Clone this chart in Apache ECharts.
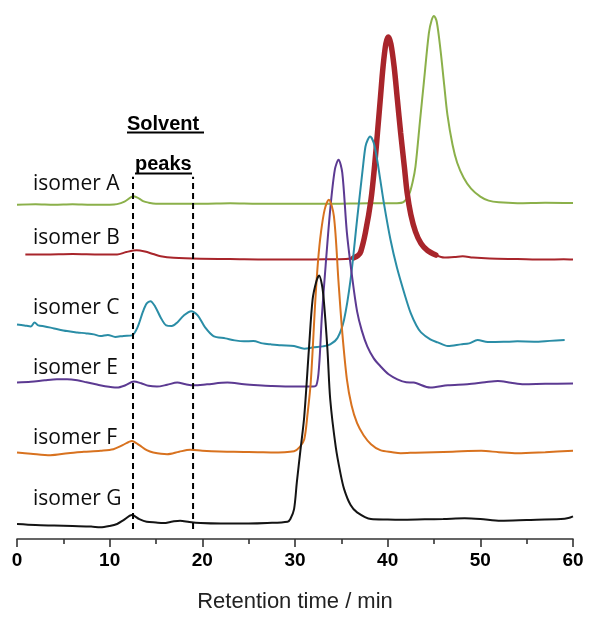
<!DOCTYPE html>
<html>
<head>
<meta charset="utf-8">
<script src="https://cdn.jsdelivr.net/npm/echarts@6/dist/echarts.min.js"></script>
<style>
html,body{margin:0;padding:0;background:#fff;}
#chart{width:589px;height:618px;}
</style>
</head>
<body>
<div id="chart"></div>
<script>
// Retention time (min) vs. detector signal (stacked, arbitrary units)
const xTicks = [0, 10, 20, 30, 40, 50, 60];
const seriesNames = ['isomer A', 'isomer B', 'isomer C', 'isomer E', 'isomer F', 'isomer G'];
const seriesColors = ['#8bb04a', '#a8252b', '#2a8da6', '#5c3a92', '#d8721f', '#141414'];
const solventPeakTimes = [12.52, 19.0];
const solventLineSpan = [10, 363];

const isomerA = [[0,335],[2,335.5],[4,335],[6,335.5],[8,335],[10,335],[10.8,335.5],[11.6,338],[12.6,343.5],[13.2,341],[13.6,338.5],[14.2,337],[15,336],[17,336],[20,336],[23,336.5],[26,336],[30,336],[34,336],[38,336.5],[41,336.5],[41.7,337.5],[42.3,345],[42.7,358],[43.0,373],[43.5,420],[43.9,457],[44.45,507],[44.75,520],[45.0,524],[45.3,518],[45.7,490],[46.1,455],[46.45,425],[47,395],[47.5,377],[48.2,362],[49,351],[50,343],[50.9,339],[52,337.3],[54,336.5],[57,337],[60,336.7]];

const isomerB = [[0.9,285],[3,285],[6,285.5],[9,285],[10.8,285],[11.8,287.5],[12.9,289.3],[13.8,288],[14.7,285.5],[15.5,283.3],[16.9,281.7],[19.8,280.7],[23,280.5],[27,280],[31,280],[34,280.3],[35.5,280.5],[36.3,281.5],[36.8,284],[37.1,288],[37.6,307],[38.2,340],[38.6,375],[38.9,407],[39.2,440],[39.5,473],[39.8,496],[40.07,503],[40.35,496],[40.7,473],[41.05,440],[41.4,407],[41.8,373],[42.1,347],[42.5,325],[43.0,308],[43.6,296],[44.3,289],[45.2,284.5],[46.1,282],[47.2,282.5],[48.1,283.3],[49.2,282],[51,281],[54,280.5],[57,280],[59,280.3],[60,280]];

const isomerC = [[0,215],[0.8,214],[1.5,213],[1.9,217],[2.3,214],[3,213],[4,211],[5.4,208.3],[6.5,207],[7.5,206],[8.3,205],[9,203.3],[9.8,204.5],[10.6,202.5],[11.5,203.5],[12.4,204],[13,212],[13.6,228],[14.0,236],[14.4,238.3],[14.9,233],[15.5,222],[16.1,214],[16.7,213.3],[17.3,217],[18.0,224],[18.8,228.3],[19.5,224],[20.3,212],[21.2,203.3],[22.5,201],[23.5,199],[24.5,198],[25.5,198.3],[26.5,196],[27.4,195],[28.5,194],[29.9,193.3],[31,190.7],[32,192],[33,193],[33.8,195],[34.6,201.7],[35.3,220],[36.0,260],[36.7,320],[37.3,370],[37.6,393],[37.85,400],[38.1,403.3],[38.5,396.7],[38.9,378],[39.2,360],[39.6,336],[40.3,300],[41.0,272],[41.9,243],[42.5,226],[43.1,214],[43.6,207],[44.6,200],[45.4,197],[46.5,193.3],[47.9,195],[48.8,196],[49.7,199.3],[50.8,197.3],[52.5,197.5],[54,198],[55.8,197.7],[57.5,198.5],[59.1,199.3]];

const isomerE = [[0,156.7],[1.5,157.5],[3,159],[4.3,160],[5.4,160],[6.5,159],[7.5,157],[8.5,155],[9.5,153],[10.8,151.7],[11.7,154],[12.6,157.7],[13.4,156],[14.2,153.5],[15.1,152.7],[16.2,154.5],[17.3,156.7],[18.2,155],[19.1,154],[20.5,155],[22.7,156.7],[24.5,155],[26,154],[27.4,153.3],[29.9,152.7],[31.7,152.7],[32.3,154],[32.6,173.3],[32.9,223.3],[33.3,273.3],[33.8,330],[34.3,370],[34.7,380],[35.1,367],[35.6,307],[36.2,260],[36.7,228],[37.2,209],[37.8,193],[38.5,181],[39.2,173.3],[40.1,165],[41.05,160],[42,157],[42.8,156.7],[44.6,151.7],[46.5,154],[48.6,155],[50.5,157],[51.9,158.3],[53.3,156.5],[54.7,155],[57,155.5],[60,155.7]];

const isomerF = [[0,86.7],[1.5,85.5],[3.6,84],[5.5,86],[7.2,87.3],[9,88.5],[10.4,90],[11.4,94],[12.4,98.3],[13.2,94],[14.0,89],[14.7,86.7],[16.2,85],[17.5,87.5],[18.7,89.3],[20,88.5],[23.4,87.3],[26,87],[27.4,86.7],[29.9,88],[30.5,92],[31.0,100],[31.35,125],[31.7,157],[32.2,240],[32.5,280],[32.8,307],[33.2,330],[33.65,340],[34.2,323.3],[34.7,257],[35.1,207],[35.6,160],[36.1,134],[36.7,116],[37.4,104],[38.2,95],[39.2,89],[40.5,87],[41.4,86],[43,86.5],[45,87],[47,87.5],[50.1,88.3],[52,87],[54,86],[57,87],[60,88.3]];

const isomerG = [[0,15],[2,14],[4,13.5],[6,13],[8,12.5],[9,11.7],[10,13],[10.8,15],[11.5,19],[12.4,24],[13.2,20],[14,17.3],[15,16.5],[15.8,16],[16.8,17.5],[17.6,18.3],[18.6,17],[19.8,16],[22,15.5],[25,15.5],[27,16],[29.2,17.3],[29.5,20],[29.9,30],[30.2,57],[30.6,90],[31.0,123],[31.5,190],[31.9,240],[32.3,258],[32.6,264],[32.9,255],[33.1,240],[33.5,190],[33.8,140],[34.4,92],[34.9,66],[35.3,50],[36.0,34],[36.7,26.7],[38.2,20],[40,19.5],[41.4,19.3],[44,19.7],[46,20],[48.3,20.7],[50,20],[52.2,18.3],[55,19],[58.7,20],[59.5,21],[60,22.7]];

const traces = [isomerA, isomerB, isomerC, isomerE, isomerF, isomerG];
const thickRange = [36.3, 45.2];

const chart = echarts.init(document.getElementById('chart'), null, {renderer: 'canvas'});

const series = traces.map((d, i) => ({
  name: seriesNames[i],
  type: 'line',
  data: d,
  showSymbol: false,
  smooth: 0.3,
  lineStyle: {color: seriesColors[i], width: 2},
  z: 2 + i
}));

series.push({
  name: 'isomer B peak',
  type: 'line',
  data: isomerB.filter(p => p[0] >= thickRange[0] && p[0] <= thickRange[1]),
  showSymbol: false,
  smooth: 0.3,
  lineStyle: {color: seriesColors[1], width: 5.5, cap: 'round'},
  z: 3
});

solventPeakTimes.forEach((t, k) => {
  series.push({
    name: 'solvent' + k,
    type: 'line',
    data: [[t, solventLineSpan[0]], [t, solventLineSpan[1]]],
    showSymbol: false,
    lineStyle: {color: '#000', width: 2, type: [6, 4]},
    z: 10
  });
});

const labelY = [184, 238, 308, 368, 438, 499];
const graphics = seriesNames.map((n, i) => ({
  type: 'text',
  x: 33,
  y: labelY[i],
  style: {text: n, font: '21px "Open Sans"', fill: '#0d0d0d', verticalAlign: 'middle', align: 'left'}
}));
graphics.push(
  {type: 'text', x: 127, y: 124, style: {text: 'Solvent', font: 'bold 20px "Liberation Sans", Arial', fill: '#000', verticalAlign: 'middle', align: 'left'}},
  {type: 'line', shape: {x1: 127, y1: 132.5, x2: 204, y2: 132.5}, style: {stroke: '#000', lineWidth: 2}},
  {type: 'text', x: 135, y: 164, style: {text: 'peaks', font: 'bold 20px "Liberation Sans", Arial', fill: '#000', verticalAlign: 'middle', align: 'left'}},
  {type: 'line', shape: {x1: 135, y1: 173.5, x2: 192, y2: 173.5}, style: {stroke: '#000', lineWidth: 2}}
);

chart.setOption({
  animation: false,
  backgroundColor: '#fff',
  grid: {left: 17, right: 16, top: 10, bottom: 78, containLabel: false},
  xAxis: {
    type: 'value', min: xTicks[0], max: xTicks[xTicks.length - 1], interval: 10,
    axisLine: {show: true, lineStyle: {color: '#333', width: 1.6}},
    axisTick: {show: true, inside: false, length: 8, lineStyle: {color: '#333', width: 1.6}},
    minorTick: {show: true, splitNumber: 2, length: 5, lineStyle: {color: '#333', width: 1.6}},
    splitLine: {show: false},
    axisLabel: {color: '#000', fontWeight: 'bold', fontSize: 19, fontFamily: 'Liberation Sans, Arial', margin: 12},
    name: 'Retention time / min', nameLocation: 'middle', nameGap: 52,
    nameTextStyle: {color: '#222', fontSize: 22, fontFamily: 'Liberation Sans, Arial'}
  },
  yAxis: {type: 'value', min: 0, max: 530, show: false},
  series: series,
  graphic: graphics
});
</script>
</body>
</html>
